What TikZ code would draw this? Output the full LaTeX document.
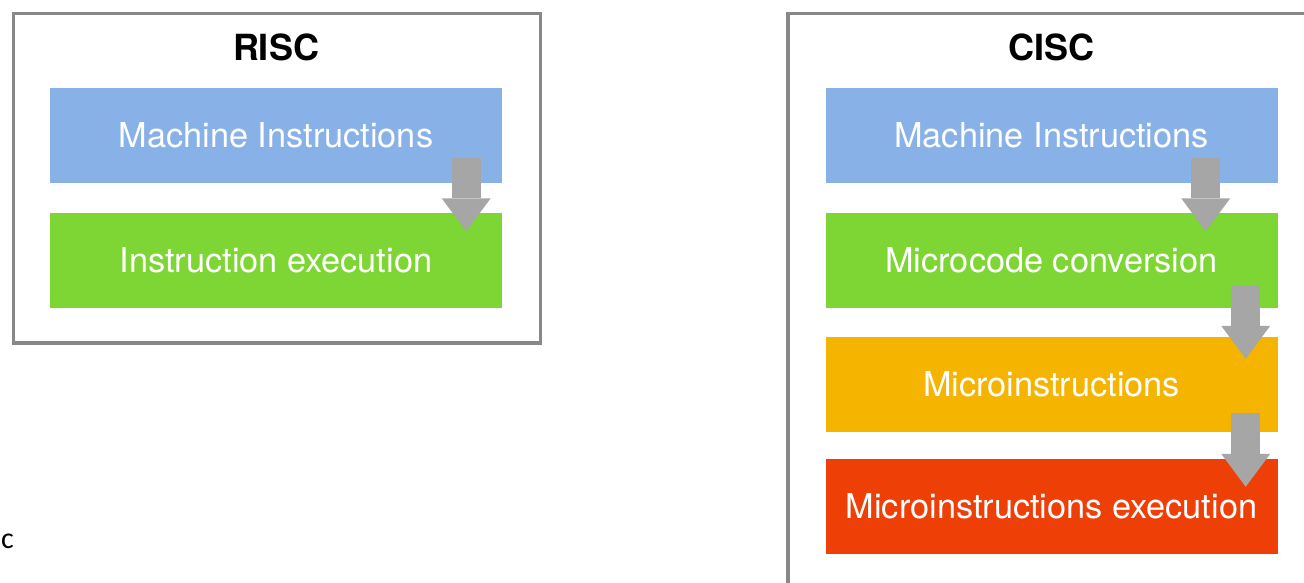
\documentclass[tikz,border=0pt]{standalone}
\usepackage{fontspec}
\setmainfont{TeX Gyre Heros}
\newfontfamily\notafont{Carlito}
\usetikzlibrary{arrows.meta, positioning}
\definecolor{azulInstr}{HTML}{88B1E8}
\definecolor{verdeExec}{HTML}{7DD633}
\definecolor{naranjaMicro}{HTML}{F4B400}
\definecolor{rojoExec}{HTML}{EE3F07}
\definecolor{grisFlecha}{HTML}{A6A6A6}
\definecolor{grisMarco}{HTML}{888888}

\begin{document}
\begin{tikzpicture}[x=1pt, y=-1pt,
        etapa/.style={minimum width=452pt, minimum height=95pt, inner sep=0pt,
            text=white, font=\fontsize{34.3}{40}\selectfont},
        titulo/.style={font=\fontsize{36}{42}\selectfont\bfseries},
        marco/.style={draw=grisMarco, line width=3.5pt},
        flecha/.style={draw=grisFlecha, line width=29pt,
            -{Triangle[line width=0pt, length=33pt, width=49pt]}}]
        \useasboundingbox (0,0) rectangle (1304,582);
        \begin{scope}
            \clip (0,0) rectangle (1304,582);
            \draw[marco] (13.5,13.5) rectangle (540.5,343);
            \draw[marco] (788,13.5) rectangle (1340,620);
        \end{scope}
        % RISC
        \node[titulo] (rt) at (276,47) {RISC};
        \node[etapa, fill=azulInstr] (rm) at (276,135.5) {Machine Instructions};
        \node[etapa, fill=verdeExec] (re) at (276,260) {Instruction execution};
        % CISC
        \node[titulo] (ct) at (1051.5,47) {CISC};
        \node[etapa, fill=azulInstr] (cm) at (1051.5,135.5) {Machine Instructions};
        \node[etapa, fill=verdeExec] (cc) at (1051.5,260) {Microcode conversion};
        \node[etapa, fill=naranjaMicro] (ci) at (1051.5,384.5) {Microinstructions};
        \node[etapa, fill=rojoExec] (cx) at (1051.5,506.5) {Microinstructions execution};
        \node[font=\notafont\fontsize{30}{34}\selectfont, anchor=west, inner sep=0pt] (nota) at (1,541) {c};
        % flechas
        \draw[flecha] ([xshift=-36pt, yshift=25pt]rm.south east) -- ([xshift=-36pt, yshift=-19pt]re.north east);
        \draw[flecha] ([xshift=-72pt, yshift=25pt]cm.south east) -- ([xshift=-72pt, yshift=-19pt]cc.north east);
        \draw[flecha] ([xshift=-32pt, yshift=22pt]cc.south east) -- ([xshift=-32pt, yshift=-22pt]ci.north east);
        \draw[flecha] ([xshift=-32pt, yshift=19pt]ci.south east) -- ([xshift=-32pt, yshift=-28pt]cx.north east);
    \end{tikzpicture}
\end{document}
